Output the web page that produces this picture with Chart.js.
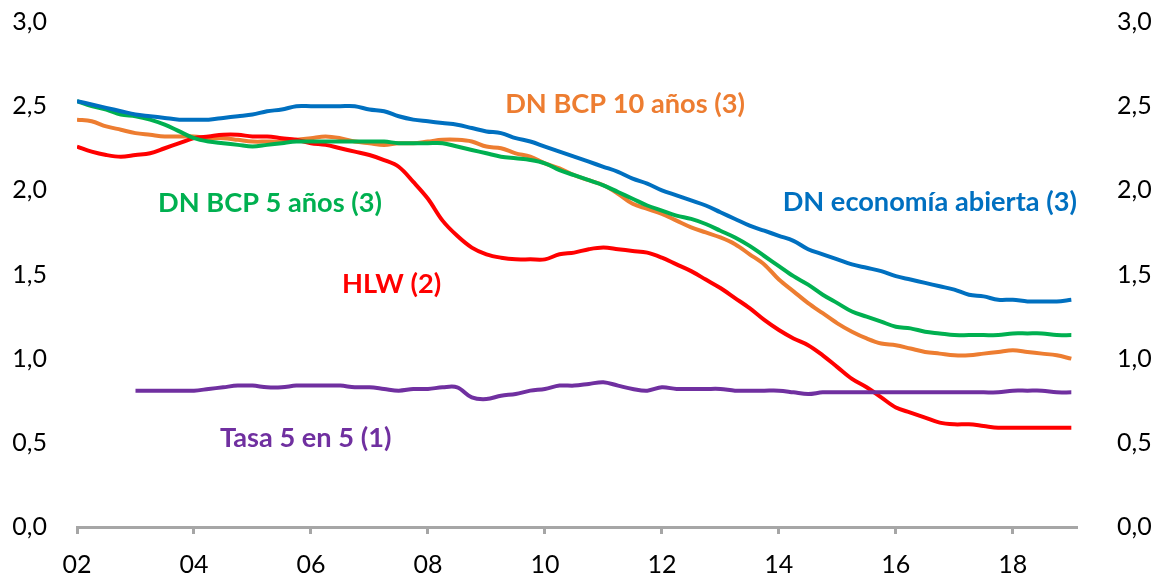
<!DOCTYPE html>
<html><head><meta charset="utf-8">
<script src="https://cdn.jsdelivr.net/npm/chart.js@4.4.1/dist/chart.umd.min.js"></script>
<style>html,body{margin:0;padding:0;background:#fff}#wrap{width:1152px;height:581px}</style>
</head><body><div id="wrap"><canvas id="c" width="1152" height="581"></canvas></div>
<script>
// Quarterly categories 2002T1 .. 2019T1
const quarters = [];
for (let yr = 2002; yr <= 2018; yr++) for (let q = 1; q <= 4; q++) quarters.push(yr + 'T' + q);
quarters.push('2019T1');

const xTickYears = [2002, 2004, 2006, 2008, 2010, 2012, 2014, 2016, 2018];
const xTickLabels = ['02', '04', '06', '08', '10', '12', '14', '16', '18'];
const yTicks = [0, 0.5, 1, 1.5, 2, 2.5, 3];

const economiaAbierta = [2.53,2.51,2.49,2.47,2.45,2.44,2.43,2.42,2.42,2.42,2.43,2.44,2.45,2.47,2.48,2.50,2.50,2.50,2.50,2.50,2.48,2.47,2.44,2.42,2.41,2.40,2.39,2.37,2.35,2.34,2.31,2.29,2.26,2.23,2.20,2.17,2.14,2.11,2.07,2.04,2.00,1.97,1.94,1.91,1.87,1.83,1.79,1.76,1.73,1.70,1.65,1.62,1.59,1.56,1.54,1.52,1.49,1.47,1.45,1.43,1.41,1.38,1.37,1.35,1.35,1.34,1.34,1.34,1.35];
const bcp5 = [2.53,2.50,2.48,2.45,2.44,2.42,2.39,2.35,2.31,2.29,2.28,2.27,2.26,2.27,2.28,2.29,2.29,2.29,2.29,2.29,2.29,2.29,2.28,2.28,2.28,2.28,2.26,2.24,2.22,2.20,2.19,2.18,2.16,2.12,2.09,2.06,2.03,1.99,1.95,1.91,1.88,1.85,1.83,1.80,1.76,1.72,1.67,1.61,1.55,1.49,1.44,1.38,1.33,1.28,1.25,1.22,1.19,1.18,1.16,1.15,1.14,1.14,1.14,1.14,1.15,1.15,1.15,1.14,1.14];
const bcp10 = [2.42,2.41,2.38,2.36,2.34,2.33,2.32,2.32,2.32,2.31,2.31,2.30,2.29,2.29,2.29,2.30,2.31,2.32,2.31,2.29,2.28,2.27,2.28,2.28,2.29,2.30,2.30,2.29,2.26,2.25,2.22,2.20,2.16,2.13,2.09,2.06,2.03,1.98,1.92,1.89,1.86,1.82,1.78,1.75,1.72,1.68,1.62,1.56,1.47,1.40,1.33,1.27,1.21,1.16,1.12,1.09,1.08,1.06,1.04,1.03,1.02,1.02,1.03,1.04,1.05,1.04,1.03,1.02,1.00];
const hlw = [2.26,2.23,2.21,2.20,2.21,2.22,2.25,2.28,2.31,2.32,2.33,2.33,2.32,2.32,2.31,2.30,2.28,2.27,2.25,2.23,2.21,2.18,2.14,2.05,1.95,1.82,1.73,1.66,1.62,1.60,1.59,1.59,1.59,1.62,1.63,1.65,1.66,1.65,1.64,1.63,1.60,1.56,1.52,1.47,1.42,1.36,1.30,1.23,1.17,1.12,1.08,1.02,0.95,0.88,0.83,0.77,0.71,0.68,0.65,0.62,0.61,0.61,0.60,0.59,0.59,0.59,0.59,0.59,0.59];
const tasa5en5 = [null,null,null,null,0.81,0.81,0.81,0.81,0.81,0.82,0.83,0.84,0.84,0.83,0.83,0.84,0.84,0.84,0.84,0.83,0.83,0.82,0.81,0.82,0.82,0.83,0.83,0.77,0.76,0.78,0.79,0.81,0.82,0.84,0.84,0.85,0.86,0.84,0.82,0.81,0.83,0.82,0.82,0.82,0.82,0.81,0.81,0.81,0.81,0.80,0.79,0.80,0.80,0.80,0.80,0.80,0.80,0.80,0.80,0.80,0.80,0.80,0.80,0.80,0.81,0.81,0.81,0.80,0.80];

const seriesNames = ['Tasa 5 en 5 (1)', 'DN economía abierta (3)', 'DN BCP 5 años (3)', 'HLW (2)', 'DN BCP 10 años (3)'];
const seriesColors = ['#7030A0', '#0070C0', '#00B050', '#FF0000', '#ED7D31'];
const seriesValues = [tasa5en5, economiaAbierta, bcp5, hlw, bcp10];

// Label anchors (year, value) for in-chart series names
const labelYears = [2005.91, 2016.58, 2005.30, 2007.38, 2011.37];
const labelValues = [0.53, 1.93, 1.925, 1.44, 2.51];

const quarterToYear = s => { const [y, q] = s.split('T').map(Number); return y + (q - 1) / 4; };
const toPoints = vals => quarters.map((q, i) => ({ x: quarterToYear(q), y: vals[i] })).filter(p => p.y !== null);

const FONT = 'Lato, "Open Sans", sans-serif';

const labelPlugin = {
  id: 'seriesLabels',
  afterDatasetsDraw(chart) {
    const ctx = chart.ctx, xs = chart.scales.x, ys = chart.scales.y;
    ctx.save();
    ctx.font = 'bold 100px ' + FONT;
    const w = ctx.measureText('DN BCP 10 años (3)').width;
    const size = 100 * 240 / w;
    ctx.font = 'bold ' + size.toFixed(1) + 'px ' + FONT;
    ctx.textAlign = 'center';
    ctx.textBaseline = 'middle';
    seriesNames.forEach((n, i) => {
      ctx.fillStyle = seriesColors[i];
      ctx.fillText(n, xs.getPixelForValue(labelYears[i]), ys.getPixelForValue(labelValues[i]));
    });
    ctx.restore();
  }
};
const bgPlugin = {
  id: 'bg',
  beforeDraw(chart) { const c = chart.ctx; c.save(); c.fillStyle = '#fff'; c.fillRect(0, 0, chart.width, chart.height); c.restore(); }
};

const yFmt = v => Number(v).toFixed(1).replace('.', ',');
const yAxis = (pos, width, pad) => ({
  type: 'linear', position: pos, min: 0, max: 3,
  afterBuildTicks: s => { s.ticks = yTicks.map(v => ({ value: v })); },
  ticks: { callback: yFmt, color: '#000', font: { family: FONT, size: 25 }, padding: pad },
  grid: { display: false, drawTicks: false },
  border: { display: false },
  afterFit: s => { s.width = width; s.paddingTop = 0; s.paddingBottom = 0; }
});

new Chart(document.getElementById('c'), {
  type: 'line',
  data: {
    datasets: seriesValues.map((vals, i) => ({
      label: seriesNames[i],
      data: toPoints(vals),
      borderColor: seriesColors[i],
      backgroundColor: seriesColors[i],
      borderWidth: 4,
      pointRadius: 0,
      tension: 0.35,
      fill: false
    }))
  },
  options: {
    responsive: false,
    animation: false,
    devicePixelRatio: 1,
    layout: { padding: { top: 22, bottom: 0, left: 0, right: 0 } },
    plugins: { legend: { display: false }, tooltip: { enabled: false } },
    scales: {
      x: {
        type: 'linear', position: 'bottom', min: 2002, max: 2019.08,
        afterBuildTicks: s => { s.ticks = xTickYears.map(v => ({ value: v })); },
        ticks: {
          callback: v => xTickLabels[xTickYears.indexOf(v)],
          color: '#000', font: { family: FONT, size: 25 }, padding: 16, maxRotation: 0, autoSkip: false
        },
        grid: { drawOnChartArea: false, drawTicks: true, tickLength: 7, color: '#A6A6A6', lineWidth: 3 },
        border: { display: true, color: '#A6A6A6', width: 3 },
        afterFit: s => { s.height = 54; s.paddingLeft = 0; s.paddingRight = 0; }
      },
      y: yAxis('left', 77, 30),
      y2: yAxis('right', 76, 41)
    }
  },
  plugins: [bgPlugin, labelPlugin]
});
</script>
</body></html>
